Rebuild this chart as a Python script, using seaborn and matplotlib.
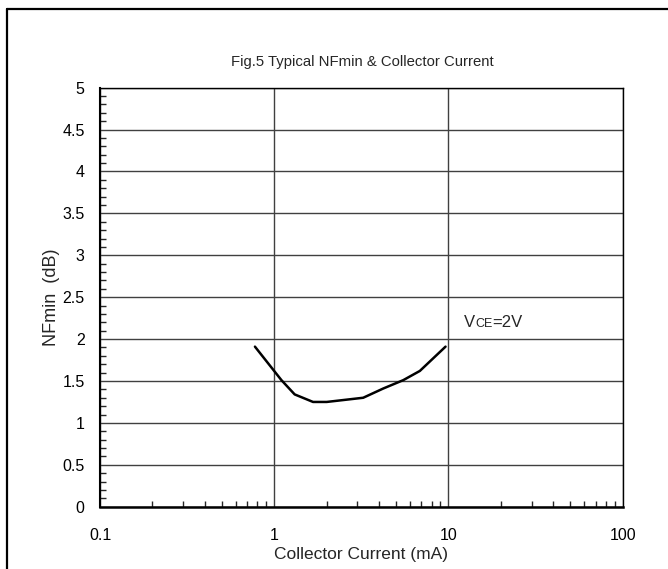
import matplotlib
matplotlib.use("Agg")
import matplotlib.pyplot as plt
import seaborn as sns
import pandas as pd
import numpy as np
from matplotlib.ticker import FixedLocator, NullFormatter, LogLocator, MultipleLocator
from matplotlib.lines import Line2D
from matplotlib.offsetbox import TextArea, HPacker, AnnotationBbox

# ---- data ----
current_ma = [0.775, 1.10, 1.31, 1.67, 2.0, 3.24, 4.22, 5.5, 6.85, 9.62]
nfmin_db = [1.91, 1.51, 1.34, 1.25, 1.25, 1.30, 1.41, 1.51, 1.62, 1.91]
x_ticks = [0.1, 1, 10, 100]
x_tick_labels = ["0.1", "1", "10", "100"]
y_ticks = [0, 0.5, 1, 1.5, 2, 2.5, 3, 3.5, 4, 4.5, 5]
y_tick_labels = ["0", "0.5", "1", "1.5", "2", "2.5", "3", "3.5", "4", "4.5", "5"]

df = pd.DataFrame({"Ic": current_ma, "NF": nfmin_db})

sns.set_style("white")
plt.rcParams["font.family"] = ["Liberation Sans", "DejaVu Sans"]

fig = plt.figure(figsize=(6.68, 5.69), dpi=100)
ax = fig.add_axes([100 / 668, 1 - 506.7 / 569, 522.7 / 668, 419 / 569])

sns.lineplot(data=df, x="Ic", y="NF", ax=ax, color="black", linewidth=1.8, sort=False)

ax.set_xscale("log")
ax.set_xlim(0.1, 100)
ax.set_ylim(0, 5)

ax.xaxis.set_major_locator(FixedLocator(x_ticks))
ax.set_xticklabels(x_tick_labels)
ax.xaxis.set_minor_locator(LogLocator(base=10, subs=np.arange(2, 10)))
ax.xaxis.set_minor_formatter(NullFormatter())
ax.yaxis.set_major_locator(FixedLocator(y_ticks))
ax.set_yticklabels(y_tick_labels)
ax.yaxis.set_minor_locator(MultipleLocator(0.1))

ax.grid(True, which="major", color="#404040", linewidth=1.0)
ax.tick_params(axis="both", which="major", length=0, labelsize=11.5, colors="black")
ax.tick_params(axis="y", which="major", pad=11)
ax.tick_params(axis="x", which="major", pad=15)
ax.tick_params(axis="y", which="minor", direction="in", length=4, width=1, left=True)
ax.tick_params(axis="x", which="minor", direction="in", length=4, width=1, bottom=True)

for s in ax.spines.values():
    s.set_color("black")
    s.set_linewidth(1.0)
ax.spines["left"].set_linewidth(1.5)
ax.spines["bottom"].set_linewidth(1.8)

ax.set_xlabel("Collector Current (mA)", fontsize=12.5, labelpad=3)
ax.set_ylabel("NFmin  (dB)", fontsize=13, labelpad=2)

fig.text(362 / 668, 1 - 62 / 569, "Fig.5 Typical NFmin & Collector Current",
         ha="center", va="center", fontsize=10.7)

# VCE=2V annotation with small-caps "CE"
parts = HPacker(children=[
    TextArea("V", textprops=dict(fontsize=12, family=["Liberation Sans"])),
    TextArea("CE", textprops=dict(fontsize=9, family=["Liberation Sans"])),
    TextArea("=2V", textprops=dict(fontsize=12, family=["Liberation Sans"])),
], align="baseline", pad=0, sep=0)
ab = AnnotationBbox(parts, (12.3, 2.11), xycoords="data", box_alignment=(0, 0),
                    frameon=False, pad=0)
ax.add_artist(ab)

# outer frame (left and top edges)
fig.add_artist(Line2D([7 / 668, 7 / 668], [0, 1 - 9 / 569], transform=fig.transFigure,
                      color="black", linewidth=1.6))
fig.add_artist(Line2D([7 / 668, 1], [1 - 9 / 569, 1 - 9 / 569], transform=fig.transFigure,
                      color="black", linewidth=1.6))

fig.savefig("out.png", dpi=100)
